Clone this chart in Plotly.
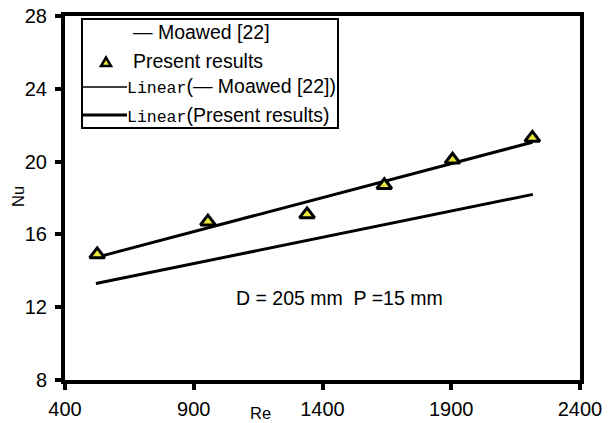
import numpy as np
import plotly.graph_objects as go

# ---- data ----
present_re = [525, 955, 1340, 1640, 1905, 2215]
present_nu = [14.9, 16.7, 17.1, 18.7, 20.1, 21.3]
moawed_re = [520, 2217]
moawed_nu = [13.3, 18.2]
x_ticks = [400, 900, 1400, 1900, 2400]
y_ticks = [8, 12, 16, 20, 24, 28]

W, H = 612, 423
L, R, T, B = 65, 580, 16, 380  # plot area in pixels

def px(x):
    return (x - L) / (R - L)

def py(y):
    return (B - y) / (B - T)

FONT = "Liberation Sans, Arial, sans-serif"

# linear trendlines
c1 = np.polyfit(present_re, present_nu, 1)
tr_x = np.array([min(present_re), max(present_re)])
tr_y = np.polyval(c1, tr_x)
c2 = np.polyfit(moawed_re, moawed_nu, 1)
tm_x = np.array([min(moawed_re), max(moawed_re)])
tm_y = np.polyval(c2, tm_x)

fig = go.Figure()
fig.add_trace(go.Scatter(x=tm_x, y=tm_y, mode="lines",
                         line=dict(color="black", width=3), showlegend=False))
fig.add_trace(go.Scatter(x=tr_x, y=tr_y, mode="lines",
                         line=dict(color="black", width=3), showlegend=False))
fig.add_trace(go.Scatter(x=present_re, y=present_nu, mode="markers",
                         marker=dict(symbol="triangle-up", size=13, color="#E8E83A",
                                     line=dict(color="black", width=3)),
                         showlegend=False))

shapes = []
annotations = []

# legend box
shapes.append(dict(type="rect", xref="paper", yref="paper",
                   x0=px(82), x1=px(338), y0=py(128), y1=py(19),
                   line=dict(color="black", width=2), fillcolor="white", layer="above"))
# legend line samples
shapes.append(dict(type="line", xref="paper", yref="paper",
                   x0=px(82), x1=px(127), y0=py(87), y1=py(87),
                   line=dict(color="black", width=1.5)))
shapes.append(dict(type="line", xref="paper", yref="paper",
                   x0=px(82), x1=px(127), y0=py(115), y1=py(115),
                   line=dict(color="black", width=3)))
# legend triangle
tx, ty = 106, 62
path = "M {},{} L {},{} L {},{} Z".format(px(tx - 5), py(ty + 4), px(tx + 5), py(ty + 4), px(tx), py(ty - 4.5))
shapes.append(dict(type="path", xref="paper", yref="paper", path=path,
                   fillcolor="#E8E83A", line=dict(color="black", width=2.5)))

def leg_text(x, y, text):
    annotations.append(dict(xref="paper", yref="paper", x=px(x), y=py(y),
                            xanchor="left", yanchor="middle", showarrow=False,
                            text=text, font=dict(family=FONT, size=19.5, color="black")))

leg_text(131, 32, "— Moawed [22]")
leg_text(131, 61, "Present results")
mono = "<span style='font-family:Liberation Mono, monospace;font-size:16.5px'>Linear</span>"
leg_text(125, 87, mono + "(— Moawed [22])")
leg_text(125, 115, mono + "(Present results)")

annotations.append(dict(xref="paper", yref="paper", x=px(339), y=py(298),
                        xanchor="center", yanchor="middle", showarrow=False,
                        text="D = 205 mm  P =15 mm",
                        font=dict(family=FONT, size=19.5, color="black")))
annotations.append(dict(xref="paper", yref="paper", x=px(260), y=py(413),
                        xanchor="center", yanchor="middle", showarrow=False,
                        text="Re", font=dict(family=FONT, size=16.5, color="black")))
annotations.append(dict(xref="paper", yref="paper", x=px(18), y=py(197),
                        xanchor="center", yanchor="middle", showarrow=False, textangle=-90,
                        text="Nu", font=dict(family=FONT, size=16.5, color="black")))

axis_common = dict(showline=True, linewidth=4, linecolor="black", mirror=True,
                   ticks="outside", ticklen=6, tickwidth=4, tickcolor="black",
                   showgrid=False, zeroline=False, automargin=False,
                   tickfont=dict(family=FONT, size=20, color="black"))

fig.update_layout(
    width=W, height=H,
    margin=dict(l=L, r=W - R, t=T, b=H - B, autoexpand=False),
    paper_bgcolor="white", plot_bgcolor="white",
    showlegend=False,
    xaxis=dict(range=[400, 2400], tickvals=x_ticks, ticklabelstandoff=2, **axis_common),
    yaxis=dict(range=[8, 28], tickvals=y_ticks, ticklabelstandoff=4, **axis_common),
    shapes=shapes, annotations=annotations,
)

fig.write_html("out.html")
